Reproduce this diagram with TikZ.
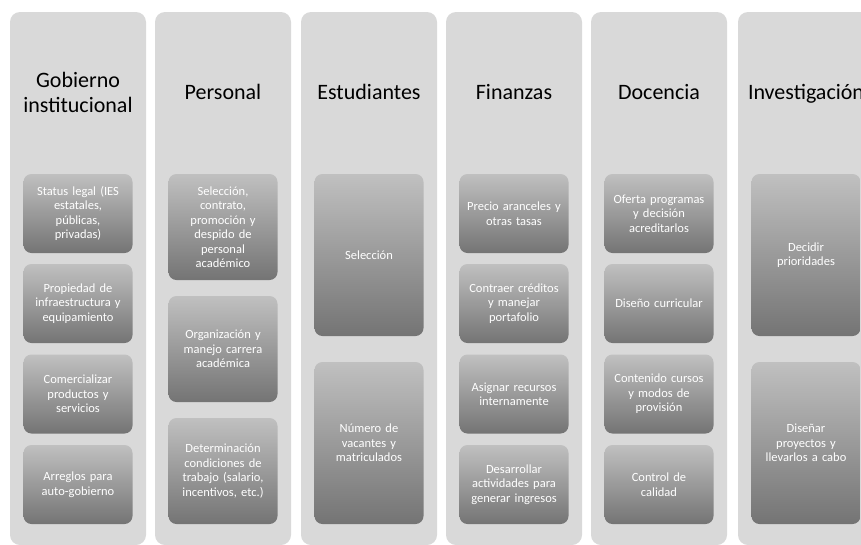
\documentclass[tikz,border=0pt]{standalone}
\usepackage{fontspec}
\setmainfont{Carlito}
\definecolor{colfill}{RGB}{217,217,217}
\definecolor{boxtop}{RGB}{192,192,192}
\definecolor{boxbot}{RGB}{116,116,116}
\begin{document}
\begin{tikzpicture}[x=1pt, y=-1pt,
	column/.style={fill=colfill, rounded corners=10pt, minimum width=136pt, minimum height=533pt, inner sep=0pt},
	header/.style={align=center, font=\fontsize{22}{25}\selectfont, text=black},
	title/.style={header, anchor=base},
	task/.style={top color=boxtop, bottom color=boxbot, rounded corners=8pt, minimum width=109pt, inner sep=0pt,
		text width=107pt, align=center, text=white, font=\fontsize{12.5}{14.5}\selectfont},
	small/.style={task, minimum height=79pt},
	mid/.style={task, minimum height=106pt},
	tall/.style={task, minimum height=162pt}]
	
	\useasboundingbox (0, 0) rectangle (861, 544);
	\clip (0, 0) rectangle (861, 544);
	
	% columnas
	\node [column] (gob) at (78, 278.5) {};
	\node [column] (per) at (223, 278.5) {};
	\node [column] (est) at (369, 278.5) {};
	\node [column] (fin) at (514, 278.5) {};
	\node [column] (doc) at (659, 278.5) {};
	\node [column] (inv) at (806, 278.5) {};
	
	% titulos
	\node [header] (gobh) at (78, 92) {Gobierno\\institucional};
	\node [title] (perh) at (223, 99) {Personal};
	\node [title] (esth) at (369, 99) {Estudiantes};
	\node [title] (finh) at (514, 99) {Finanzas};
	\node [title] (doch) at (659, 99) {Docencia};
	\node [title] (invh) at (806, 99) {Investigación};
	
	% gobierno institucional
	\node [small] (gob1) at (78, 213.5) {Status legal (IES\\estatales,\\públicas,\\privadas)};
	\node [small] (gob2) at (78, 303.5) {Propiedad de\\infraestructura y\\equipamiento};
	\node [small] (gob3) at (78, 394) {Comercializar\\productos y\\servicios};
	\node [small] (gob4) at (78, 484.5) {Arreglos para\\auto-gobierno};
	
	% personal
	\node [mid] (per1) at (223, 227) {Selección,\\contrato,\\promoción y\\despido de\\personal\\académico};
	\node [mid] (per2) at (223, 349) {Organización y\\manejo carrera\\académica};
	\node [mid] (per3) at (223, 471) {Determinación\\condiciones de\\trabajo (salario,\\incentivos, etc.)};
	
	% estudiantes
	\node [tall] (est1) at (369, 255) {Selección};
	\node [tall] (est2) at (369, 443) {Número de\\vacantes y\\matriculados};
	
	% finanzas
	\node [small] (fin1) at (514, 213.5) {Precio aranceles y\\otras tasas};
	\node [small] (fin2) at (514, 303.5) {Contraer créditos\\y manejar\\portafolio};
	\node [small] (fin3) at (514, 394) {Asignar recursos\\internamente};
	\node [small] (fin4) at (514, 484.5) {Desarrollar\\actividades para\\generar ingresos};
	
	% docencia
	\node [small] (doc1) at (659, 213.5) {Oferta programas\\y decisión\\acreditarlos};
	\node [small] (doc2) at (659, 303.5) {Diseño curricular};
	\node [small] (doc3) at (659, 394) {Contenido cursos\\y modos de\\provisión};
	\node [small] (doc4) at (659, 484.5) {Control de\\calidad};
	
	% investigacion
	\node [tall] (inv1) at (806, 255) {Decidir\\prioridades};
	\node [tall] (inv2) at (806, 443) {Diseñar\\proyectos y\\llevarlos a cabo};
	
\end{tikzpicture}
\end{document}
